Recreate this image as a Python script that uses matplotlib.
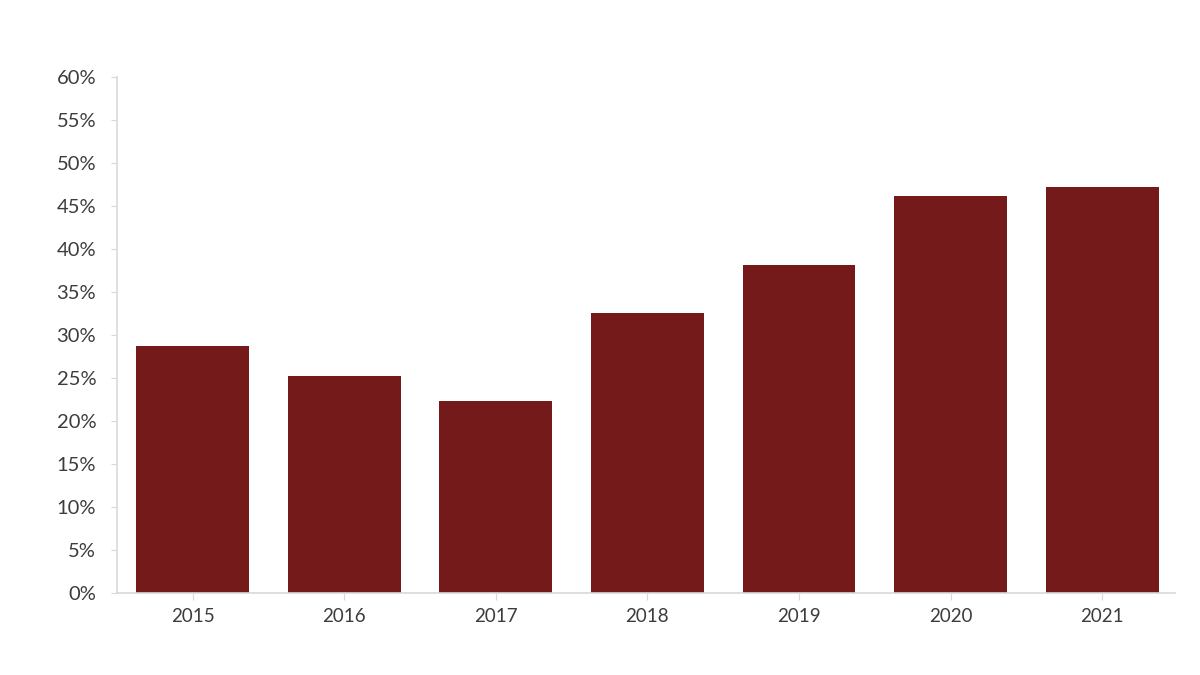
import matplotlib
matplotlib.use("Agg")
from matplotlib import pyplot as plt
from matplotlib.ticker import PercentFormatter

# values
years = ["2015", "2016", "2017", "2018", "2019", "2020", "2021"]
shares = [28.7, 25.2, 22.3, 32.6, 38.1, 46.2, 47.2]
y_ticks = list(range(0, 61, 5))

plt.rcParams['font.family'] = ['Lato', 'DejaVu Sans']

fig = plt.figure(figsize=(12, 6.75), dpi=100)
ax = fig.add_axes([0.0975, 0.1215, 0.8815, 0.7645])

ax.bar(range(len(years)), shares, width=0.745, color='#741a1a')

ax.set_xlim(-0.5, len(years) - 0.52)
ax.set_ylim(0, 60)
ax.set_yticks(y_ticks)
ax.yaxis.set_major_formatter(PercentFormatter(decimals=0))
ax.set_xticks(range(len(years)))
ax.set_xticklabels(years)

for side in ['top', 'right']:
    ax.spines[side].set_visible(False)
for side in ['left', 'bottom']:
    ax.spines[side].set_color('#d9d9d9')
    ax.spines[side].set_linewidth(1.2)

ax.tick_params(axis='y', colors='#d9d9d9', labelcolor='#3c3c3c', labelsize=14.5, length=4, pad=11)
ax.tick_params(axis='x', colors='#d9d9d9', labelcolor='#3c3c3c', labelsize=13.5, length=5, pad=6)

fig.savefig('out.png', dpi=100, facecolor='white')
